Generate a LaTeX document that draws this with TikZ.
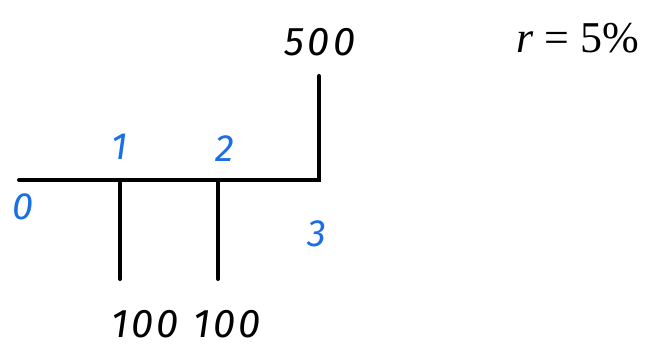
\documentclass[tikz,border=0pt]{standalone}
\usepackage{fontspec}
\newfontfamily\hand[LetterSpace=8]{Fira Sans}
\newfontfamily\serifr{Liberation Serif}
\definecolor{penblue}{HTML}{1A6FE6}
\begin{document}
\begin{tikzpicture}[x=1pt,y=-1pt,
  pen/.style={line width=4pt,line cap=round,black},
  blab/.style={text=penblue,font=\hand\itshape\fontsize{38}{38}\selectfont,inner sep=0pt},
  klab/.style={text=black,font=\hand\itshape\fontsize{40}{40}\selectfont,inner sep=0pt}]
\useasboundingbox (0,0) rectangle (661,352);
\coordinate (L) at (19,180);
\coordinate (T3) at (319,180);
\coordinate (T1) at (120,180);
\coordinate (T2) at (218,180);
\coordinate (U3) at (319,76);
\coordinate (D1) at (120,279);
\coordinate (D2) at (218,279);
\draw[pen] (L) -- (T3) -- (U3);
\draw[pen] (T1) -- (D1);
\draw[pen] (T2) -- (D2);
\node[klab] (v500) at (320,42) {500};
\node[blab] (n0) at (23,207) {0};
\node[blab] (n1) at (120,147) {1};
\node[blab] (n2) at (225,149) {2};
\node[blab] (n3) at (317,234) {3};
\node[klab] (c1) at (145,324) {100};
\node[klab] (c2) at (227,324) {100};
\node[inner sep=0pt,font=\serifr\fontsize{44}{44}\selectfont] (r) at (578,38) {\textit{r}\hspace{0.25em}=\hspace{0.25em}5\%};
\end{tikzpicture}
\end{document}
